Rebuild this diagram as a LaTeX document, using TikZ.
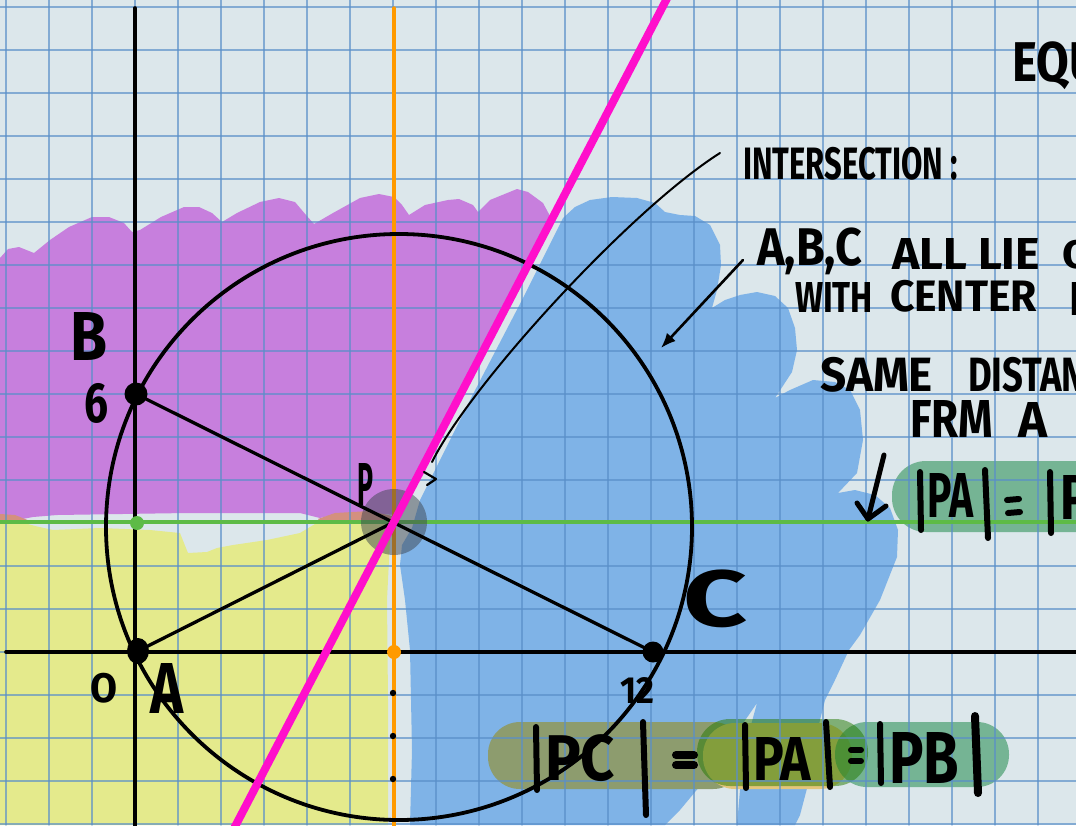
\documentclass[tikz,border=0pt]{standalone}
\usepackage{fontspec}
\setmainfont{Fira Sans}
\usepackage{graphicx}
\usetikzlibrary{arrows.meta}
\definecolor{paper}{HTML}{DCE7EB}
\definecolor{gridc}{HTML}{5A8FC9}
\definecolor{purp}{HTML}{C77FDD}
\definecolor{yell}{HTML}{E4EA8C}
\definecolor{bluer}{HTML}{7FB3E7}
\definecolor{redmix}{HTML}{D4907F}
\definecolor{pinkc}{HTML}{FF0FCB}
\definecolor{orangec}{HTML}{FF9A00}
\definecolor{greenc}{HTML}{5DBB46}
\definecolor{olive}{HTML}{8D9C6E}
\definecolor{orangetint}{HTML}{E3C57A}
\definecolor{hlgreen}{HTML}{247900}
\definecolor{teal}{HTML}{3E9A66}
\definecolor{grayp}{HTML}{3E4650}
\tikzset{
  txt/.style={anchor=north west, inner sep=0pt, outer sep=0pt},
  gridline/.style={gridc, line width=1.4pt, opacity=0.68},
  axis/.style={black, line width=3.6pt},
  seg/.style={black, line width=3.3pt},
  bar/.style={black, line width=6pt, line cap=round},
}
\newcommand\hw[3]{\resizebox*{#1pt}{#2pt}{\bfseries #3}}
\begin{document}
\begin{tikzpicture}[x=1pt, y=-1pt, line cap=round, line join=round]
\useasboundingbox (0,0) rectangle (1076,825);
\clip (0,0) rectangle (1076,825);
\fill[paper] (0,0) rectangle (1076,825);

% purple region
\fill[purp] (0,258) -- (8,249) -- (19,247) -- (34,253) -- (50,240) -- (69,227) -- (92,217) -- (109,217) -- (124,223) -- (132,232) -- (140,230) -- (161,217) -- (184,207) -- (199,207) -- (212,213) -- (222,222) -- (237,213) -- (260,202) -- (279,198) -- (295,202) -- (306,215) -- (314,224) -- (333,213) -- (360,198) -- (379,194) -- (394,197) -- (402,205) -- (409,215) -- (425,205) -- (448,200) -- (459,199) -- (473,205) -- (478,212) -- (490,200) -- (517,189) -- (528,192) -- (543,203) -- (550,216) -- (398,515) -- (363,513) -- (333,515) -- (320,518) -- (300,513) -- (187,513) -- (57,515) -- (33,517) -- (17,520) -- (0,517) -- cycle;

% yellow region
\fill[yell] (0,521) -- (17,521) -- (35,526) -- (53,530) -- (100,528) -- (150,530) -- (180,533) -- (188,553) -- (207,552) -- (217,548) -- (233,545) -- (267,540) -- (300,533) -- (320,521) -- (350,518) -- (385,520) -- (390,540) -- (387,600) -- (388,700) -- (388,825) -- (0,825) -- cycle;
\fill[redmix] (0,514) -- (15,515) -- (30,521) -- (15,523) -- (0,522) -- cycle;
\fill[redmix] (318,519) -- (335,513) -- (370,511) -- (392,516) -- (390,523) -- (322,523) -- cycle;

% blue region
\fill[bluer] (563,218) -- (575,207) -- (590,200) -- (612,197) -- (637,198) -- (655,203) -- (665,212) -- (680,215) -- (695,216) -- (710,225) -- (720,245) -- (721,265) -- (717,290) -- (712,308) -- (725,300) -- (740,295) -- (757,292) -- (775,296) -- (788,308) -- (795,328) -- (797,350) -- (792,372) -- (775,398) -- (790,390) -- (813,380) -- (835,382) -- (850,390) -- (860,410) -- (863,440) -- (857,473) -- (838,493) -- (855,490) -- (875,495) -- (890,508) -- (898,530) -- (897,557) -- (880,600) -- (860,635) -- (849,650) -- (835,680) -- (825,700) -- (815,740) -- (810,777) -- (800,815) -- (795,825) -- (737,825) -- (740,790) -- (747,740) -- (757,703) -- (735,735) -- (705,780) -- (680,810) -- (665,825) -- (410,825) -- (412,750) -- (410,650) -- (405,600) -- (400,565) -- (402,545) -- (412,528) -- (420,500) -- (435,470) -- (470,400) -- (522,300) -- cycle;

% highlighter blobs
\fill[teal, opacity=0.65, rounded corners=34pt] (892,461) rectangle (1120,532);
\fill[olive, rounded corners=32pt] (488,722) rectangle (745,789);
\fill[orangetint, rounded corners=32pt] (703,723) rectangle (852,789);
\fill[teal, opacity=0.65, rounded corners=32pt] (835,722) rectangle (1009,787);
\fill[hlgreen, opacity=0.5, rounded corners=33pt] (697,719) rectangle (868,786);

% grid
\foreach \k in {-3,...,21} \draw[gridline] ({135+43*\k},0) -- ({135+43*\k},825);
\foreach \k in {-4,...,15} \draw[gridline] (0,{652-43*\k}) -- (1076,{652-43*\k});

% key points
\coordinate (A) at (138,651);
\coordinate (B) at (136,394);
\coordinate (C) at (653,652);
\coordinate (P) at (394,522);
\coordinate (Ctr) at (399,527);

% perpendicular bisectors
\draw[greenc, line width=4.5pt, line cap=butt] (0,522) -- (1076,522);
\draw[orangec, line width=3.5pt] (394,8) -- (394,830);

% axes
\draw[axis] (135,8) -- (135,830);
\draw[axis] (6,652) -- (1080,652);

% gray disc at P
\fill[grayp, opacity=0.5] (P) circle[radius=33];

% circle and segments
\draw[black, line width=3.8pt] (Ctr) circle[radius=293];
\draw[seg] (B) -- (C);
\draw[seg] (A) -- (P);

% pink bisector
\coordinate (PK1) at (228,840);
\coordinate (PK2) at (674,-15);
\draw[pinkc, line width=8pt, line cap=butt] (PK1) -- (PK2);

% dots
\fill[black] (B) circle[radius=11.5];
\fill[black] (A) ellipse[x radius=11, y radius=13];
\fill[black] (C) circle[radius=10.5];
\fill[greenc] (137,523) circle[radius=7];
\fill[orangec] (394,652) circle[radius=7];
\fill[black] (393,693) circle[radius=3.2];
\fill[black] (393,736) circle[radius=3.2];
\fill[black] (393,779) circle[radius=3.2];

% labels on the figure
\node[txt] (lB) at (70,312) {\hw{37}{48}{B}};
\node[txt] (l6) at (84,383) {\hw{24}{40}{6}};
\node[txt] (lP) at (357,463) {\hw{16}{42}{P}};
\node[txt] (lO) at (90,673) {\hw{27}{30}{O}};
\node[txt] (lA) at (150,663) {\hw{33}{50}{A}};
\node[txt] (lC) at (683,570) {\hw{64}{58}{C}};
\node[txt] (l12) at (620,677) {\hw{34}{26}{12}};

% notes
\node[txt] (tEQU) at (1012,42) {\hw{88}{48}{EQU}};
\node[txt] (tInt) at (743,147) {\hw{215}{33}{INTERSECTION :}};
\node[txt] (tABC) at (757,228) {\hw{105}{47}{A,B,C}};
\node[txt] (tAll) at (892,238) {\hw{148}{31}{ALL LIE}};
\node[txt] (tOn) at (1062,240) {\hw{30}{29}{O}};
\node[txt] (tWith) at (795,282) {\hw{78}{30}{WITH}};
\node[txt] (tCen) at (890,280) {\hw{147}{32}{CENTER}};
\node[txt] (tPc) at (1069,282) {\hw{26}{33}{P}};
\node[txt] (tSame) at (820,357) {\hw{113}{35}{SAME}};
\node[txt] (tDist) at (968,357) {\hw{118}{35}{DISTAN}};
\node[txt] (tFrm) at (910,400) {\hw{83}{37}{FRM}};
\node[txt] (tA2) at (1018,402) {\hw{29}{35}{A}};

% |PA| = |P (upper right)
\draw[bar] (920,472) -- (921,530);
\node[txt] (uPA) at (927,473) {\hw{46}{44}{PA}};
\draw[bar] (985,470) -- (988,538);
\draw[bar] (1007,500) -- (1019,499);
\draw[bar] (1008,513) -- (1020,512);
\draw[bar] (1050,472) -- (1051,533);
\node[txt] (uP) at (1060,475) {\hw{30}{44}{P}};

% |PC| = |PA| = |PB| (bottom)
\draw[bar] (536,727) -- (537,790);
\node[txt] (bPC) at (545,735) {\hw{70}{47}{PC}};
\draw[bar] (643,722) -- (646,815);
\draw[bar, line width=8pt] (676,755) -- (694,755);
\draw[bar, line width=8pt] (676,765) -- (694,765);
\draw[bar] (745,725) -- (746,788);
\node[txt] (bPA) at (753,737) {\hw{58}{43}{PA}};
\draw[bar] (826,722) -- (830,787);
\draw[bar] (851,750) -- (861,750);
\draw[bar] (851,761) -- (861,761);
\draw[bar] (880,724) -- (881,783);
\node[txt] (bPB) at (889,732) {\hw{70}{51}{PB}};
\draw[bar, line width=8pt] (975,716) -- (978,793);

% pointers
\coordinate (I1) at (720,153);
\coordinate (I2) at (432,462);
\draw[black, line width=2pt] (I1) .. controls (630,210) and (470,385) .. (I2);
\coordinate (H1) at (424,472);
\coordinate (H2) at (427,485);
\draw[black, line width=2.2pt] (H1) -- (436,479) -- (H2);
\coordinate (R1) at (743,260);
\coordinate (R2) at (661,348);
\draw[black, line width=2.6pt, -{Latex[length=15pt,width=12pt]}] (R1) -- (R2);
\coordinate (D1) at (884,455);
\coordinate (D2) at (868,519);
\coordinate (DL) at (857,503);
\coordinate (DR) at (886,506);
\draw[black, line width=5pt] (D1) -- (D2);
\draw[black, line width=5pt] (DL) -- (D2) -- (DR);
\end{tikzpicture}
\end{document}
